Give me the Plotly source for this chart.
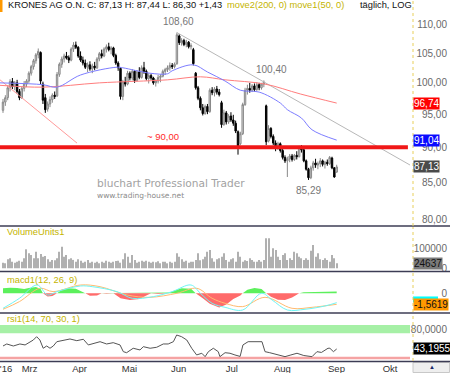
import math
import plotly.graph_objects as go

# ---------------- data ----------------
opens = [95.6, 96.9, 97.6, 99.2, 100.2, 99.4, 100.0, 98.6, 97.6, 99.1,
 99.8, 100.3, 101.6, 102.7, 103.7, 104.7, 105.1, 99.8, 97.6, 95.8,
 96.6, 97.3, 98.0, 97.9, 101.4, 103.1, 104.0, 104.5, 104.2, 103.8,
 105.7, 106.4, 106.0, 104.5, 103.8, 103.3, 102.6, 103.0, 102.3, 102.8,
 102.5, 104.0, 104.9, 104.5, 105.7, 106.1, 105.6, 105.9, 104.6, 103.3,
 102.4, 97.8, 100.2, 99.8, 101.6, 100.8, 101.9, 100.4, 101.8, 100.9,
 102.5, 101.9, 100.7, 101.2, 100.8, 100.0, 100.3, 100.9, 101.1, 101.9,
 102.2, 102.5, 102.9, 102.7, 103.2, 108.0, 106.8, 107.2, 106.5, 106.9,
 106.1, 105.6, 101.6, 99.2, 97.5, 96.0, 95.1, 96.2, 95.4, 98.8,
 98.4, 99.0, 98.5, 96.8, 93.4, 95.2, 93.8, 94.7, 94.1, 93.6,
 92.3, 90.5, 92.0, 96.5, 98.8, 99.1, 98.8, 99.5, 98.9, 99.7,
 99.2, 99.8, 96.3, 90.9, 92.8, 91.6, 90.6, 89.8, 90.5, 89.5,
 88.5, 88.0, 88.3, 88.7, 88.2, 88.8, 88.6, 89.9, 89.6, 88.0,
 86.8, 85.6, 87.0, 87.7, 87.4, 87.6, 88.0, 87.5, 87.8, 87.6,
 88.4, 87.0, 86.4]
highs = [97.4, 98.0, 99.6, 100.6, 100.8, 100.3, 100.5, 99.0, 99.4, 100.3,
 100.6, 101.9, 103.0, 104.0, 105.0, 105.8, 105.3, 100.2, 98.2, 97.0,
 97.8, 98.3, 98.6, 101.8, 103.4, 104.4, 104.9, 105.2, 104.6, 106.0,
 106.9, 107.0, 106.2, 105.3, 104.4, 103.9, 103.4, 103.6, 103.2, 103.5,
 104.3, 105.2, 105.6, 106.0, 106.5, 106.8, 106.2, 106.1, 104.9, 103.6,
 102.6, 100.5, 101.0, 102.0, 101.9, 102.3, 102.1, 102.1, 102.6, 102.9,
 103.5, 102.2, 101.6, 101.5, 101.0, 100.6, 101.3, 101.4, 102.2, 102.5,
 102.9, 103.4, 103.3, 103.4, 108.6, 108.3, 107.6, 107.5, 107.3, 107.1,
 106.7, 105.9, 101.8, 99.5, 97.8, 96.6, 96.5, 96.6, 99.1, 99.3,
 99.3, 99.5, 99.0, 97.1, 95.7, 95.5, 95.0, 95.3, 94.9, 94.0,
 92.5, 92.3, 96.8, 99.2, 99.7, 100.0, 99.8, 99.9, 100.1, 100.0,
 100.0, 100.4, 96.5, 93.3, 93.0, 91.9, 91.0, 90.8, 90.7, 89.8,
 88.8, 88.6, 89.0, 89.0, 89.0, 89.4, 90.2, 90.3, 89.8, 88.2,
 87.0, 87.3, 88.0, 88.3, 87.9, 88.4, 88.2, 88.0, 88.2, 88.7,
 88.6, 87.1, 87.44]
lows = [95.2, 96.3, 97.2, 98.6, 99.0, 98.8, 98.3, 97.2, 97.4, 98.6,
 99.3, 100.0, 101.2, 102.2, 103.2, 104.1, 99.8, 96.6, 95.2, 95.4,
 96.1, 96.8, 97.4, 97.7, 101.0, 102.5, 103.4, 103.9, 103.3, 103.6,
 105.2, 105.7, 104.2, 103.5, 102.9, 102.3, 101.8, 102.0, 101.6, 102.1,
 102.3, 103.6, 104.1, 104.3, 105.1, 105.3, 104.8, 104.3, 103.0, 102.0,
 97.3, 97.2, 99.4, 99.6, 100.4, 100.4, 100.0, 100.2, 100.6, 100.7,
 101.5, 100.4, 99.9, 100.5, 99.7, 99.4, 99.9, 100.1, 100.9, 101.3,
 101.8, 102.0, 102.3, 102.4, 103.0, 106.4, 106.3, 106.2, 106.0, 105.8,
 105.6, 102.9, 98.9, 97.2, 95.6, 94.8, 94.9, 95.0, 95.2, 98.0,
 97.8, 98.1, 97.8, 92.9, 93.2, 93.4, 93.5, 93.8, 93.2, 92.1,
 88.9, 90.3, 91.8, 96.3, 98.1, 98.4, 98.5, 98.6, 98.7, 98.8,
 98.9, 99.3, 90.3, 90.7, 91.3, 90.3, 89.4, 89.6, 89.2, 88.2,
 87.7, 85.7, 87.8, 87.9, 88.0, 88.2, 88.5, 89.2, 87.8, 86.6,
 85.29, 85.4, 86.6, 87.0, 86.8, 87.1, 87.2, 86.9, 87.3, 87.4,
 86.8, 85.6, 86.30]
closes = [96.9, 97.6, 99.2, 100.2, 99.4, 100.0, 98.6, 97.6, 99.1, 99.8,
 100.3, 101.6, 102.7, 103.7, 104.7, 105.3, 100.3, 97.2, 95.7, 96.6,
 97.3, 98.0, 97.8, 101.4, 103.1, 104.0, 104.5, 104.2, 103.8, 105.7,
 106.4, 106.0, 104.5, 103.8, 103.3, 102.6, 103.0, 102.3, 102.8, 102.5,
 104.0, 104.9, 104.5, 105.7, 106.1, 105.6, 105.9, 104.6, 103.3, 102.5,
 97.8, 100.2, 99.8, 101.6, 100.8, 101.9, 100.4, 101.8, 100.9, 102.5,
 101.9, 100.7, 101.2, 100.8, 100.0, 100.3, 100.9, 101.1, 101.9, 102.2,
 102.5, 102.9, 102.7, 103.1, 108.2, 106.8, 107.2, 106.5, 106.9, 106.1,
 106.3, 103.2, 99.2, 97.5, 96.0, 95.1, 96.2, 95.4, 98.8, 98.4,
 99.0, 98.5, 98.1, 93.4, 95.2, 93.8, 94.7, 94.1, 93.6, 92.4,
 90.2, 92.0, 96.5, 98.8, 99.1, 98.8, 99.5, 98.9, 99.7, 99.2,
 99.8, 100.1, 90.8, 92.8, 91.6, 90.6, 89.8, 90.5, 89.5, 88.5,
 88.0, 88.3, 88.7, 88.2, 88.8, 88.6, 89.9, 89.6, 88.0, 86.8,
 85.6, 87.0, 87.7, 87.4, 87.6, 88.0, 87.5, 87.8, 87.6, 88.5,
 87.0, 85.70, 87.13]
volumes = [28000, 25000, 45000, 50000, 33000, 28000, 33000, 38000, 33000, 50000,
 95000, 75000, 67000, 50000, 83000, 50000, 72000, 58000, 62000, 45000,
 33000, 42000, 40000, 50000, 83000, 108000, 58000, 67000, 45000, 50000,
 42000, 33000, 45000, 38000, 28000, 33000, 42000, 28000, 33000, 28000,
 33000, 25000, 33000, 28000, 38000, 33000, 28000, 33000, 36000, 38000,
 28000, 45000, 75000, 58000, 28000, 67000, 42000, 28000, 33000, 38000,
 33000, 38000, 33000, 28000, 33000, 30000, 35000, 25000, 33000, 33000,
 25000, 33000, 28000, 33000, 75000, 58000, 45000, 33000, 38000, 28000,
 33000, 33000, 42000, 75000, 40000, 45000, 58000, 83000, 92000, 50000,
 33000, 45000, 50000, 58000, 75000,
 42000, 33000, 45000, 50000, 33000, 83000, 58000, 33000, 40000, 36000,
 50000, 42000, 33000, 33000, 42000, 33000, 42000, 150000, 150000, 58000,
 100000, 92000, 58000, 42000, 67000, 75000, 42000, 50000, 42000, 83000,
 75000, 58000, 50000, 42000, 50000, 42000, 88000, 117000, 58000, 75000,
 45000, 42000, 50000, 42000, 33000, 67000, 50000, 24637]

ma50_x = [-1.3, 17, 23, 33, 48.5, 51, 62.5, 70, 72, 81, 87, 94.5, 101, 109, 118, 121, 127, 131.5, 142]
ma50_y = [100.0, 99.7, 99.3, 101.3, 102.6, 102.5, 101.6, 101.5, 102.0, 103.0, 101.8, 100.3, 98.8,
          98.5, 96.75, 95.7, 94.4, 92.6, 91.04]
ma200_x = [-1.3, 17, 41, 70, 84, 94.5, 111.5, 126.5, 142]
ma200_y = [99.6, 99.3, 100.0, 100.5, 101.0, 100.5, 99.8, 98.2, 96.74]

trend_gray_x = [74, 173.2]
trend_gray_y = [108.6, 87.4]
trend_red_x = [-1.28, 31.5]
trend_red_y = [100.5, 90.6]
support_x = [-1.28, 172.3]
support_y = [90.0, 90.0]

macd_x = [0, 7, 14.5, 19, 23, 33, 38, 48.5, 55, 64, 72, 80, 84, 89, 94.5, 102, 110, 114.5, 121, 128.5, 137, 142]
macd_y = [-2.13, -0.71, 1.18, -0.24, 0.24, 1.04, 0.94, 0.24, -0.71, -0.47, 0.24, 1.18, 0.0, -1.42,
          -1.99, -2.37, 0.0, -0.95, -2.37, -2.27, -1.80, -1.33]
signal_x = [0, 7, 15.7, 21.3, 33, 41.3, 52.8, 62.5, 74, 82.5, 89, 94.5, 102, 111.5, 123, 131.5, 142]
signal_y = [-2.27, -1.18, 0.71, 0.24, 1.18, 0.94, -0.24, -0.57, 0.0, 0.71, -0.71, -1.42, -1.89,
            -0.57, -2.13, -1.99, -1.5619]
hist_x = [0, 3, 6, 9, 11, 14, 16, 17, 19, 21, 23, 25, 28, 31, 34, 35, 37, 40, 42, 44, 47, 50, 54,
          58, 61, 63, 66, 69, 71, 73, 76, 80, 82, 85, 88, 92, 95, 98, 101, 102, 104, 107, 110, 112,
          114, 117, 120, 123, 125, 126, 128, 132, 136, 140, 142]
hist_y = [0.7, 0.8, 0.75, 0.6, 0.75, 0.9, 0.6, 0, -0.45, -0.4, 0, 0.5, 0.7, 0.65, 0.2, 0, -0.35,
          -0.3, 0, -0.05, 0, -0.7, -0.95, -0.8, -0.3, 0, -0.1, 0, 0.1, 0.4, 0.7, 0.65, 0, -0.7,
          -1.5, -2.0, -1.6, -0.8, -0.3, 0, 0.5, 0.75, 0.6, 0, -0.5, -0.9, -0.95, -0.6, -0.2, 0,
          0.15, 0.2, 0.22, 0.25, 0.24]

rsi_x = [0, 1.6, 4.4, 7.2, 9.4, 11.5, 12.9, 14.3, 15.7, 17.1, 18.6, 20.0, 21.4, 22.9, 25.7, 28.5,
         31.4, 34.2, 36.3, 38.4, 41.3, 44.1, 46.9, 49.8, 51.2, 52.6, 55.4, 58.3, 59.7, 62.6, 65.4,
         68.2, 70.3, 72.5, 73.9, 76.0, 78.2, 80.3, 82.4, 84.6, 86.0, 87.4, 89.5, 91.6, 92.3, 94.5,
         96.6, 98.7, 100.9, 102.1, 104.3, 110.2, 111.5, 113.5, 116.5, 120.0, 122.5, 125.1, 128,
         131.5, 133.6, 135.5, 138.3, 139.1, 140.6, 142]
rsi_y = [49.0, 52.9, 49.0, 52.9, 51.0, 57.3, 60.6, 67.0, 60.6, 44.6, 49.0, 44.6, 49.0, 57.3, 60.6,
         62.6, 59.3, 62.0, 51.0, 54.2, 57.3, 52.9, 55.4, 51.0, 38.0, 36.0, 44.6, 41.3, 47.7, 44.6,
         46.5, 52.9, 52.9, 57.3, 70.3, 67.0, 60.6, 44.6, 31.6, 34.9, 28.3, 38.0, 44.6, 38.0, 28.3,
         36.0, 34.9, 31.6, 28.8, 51.0, 57.3, 57.3, 38.0, 36.0, 32.0, 28.3, 31.6, 34.9, 30.5, 28.3,
         38.0, 36.5, 44.6, 44.6, 38.0, 43.1955]
rsi_upper_band = [73.6, 89.7]
rsi_lower_band = [23.2, 28.3]

month_pos = [1.3, 11.3, 32.6, 53.8, 74.7, 97.4, 118.9, 141.9, 164.7]
month_txt = ["'16", "Mrz", "Apr", "Mai", "Jun", "Jul", "Aug", "Sep", "Okt"]
price_ticks = [80, 85, 90, 95, 100, 105, 110]
price_tick_txt = ["80,00", "85,00", "90,00", "95,00", "100,00", "105,00", "110,00"]

# ---------------- layout helpers (pixels) ----------------
W, H, PH = 450, 373, 361
FONT = "Liberation Sans, Arial, sans-serif"
OLIVE = "#c4b400"


def px(x):
    return x / W


def py(y):
    return (PH - y) / PH


def dom(top, bottom):
    return [py(bottom), py(top)]


idx = list(range(len(closes)))
fig = go.Figure()

# main panel
fig.add_trace(go.Scatter(x=trend_gray_x, y=trend_gray_y, mode="lines",
                         line=dict(color="#b8b8b8", width=1), xaxis="x", yaxis="y", hoverinfo="skip"))
fig.add_trace(go.Scatter(x=trend_red_x, y=trend_red_y, mode="lines",
                         line=dict(color="#ff9a9a", width=1), xaxis="x", yaxis="y", hoverinfo="skip"))
fig.add_trace(go.Scatter(x=ma200_x, y=ma200_y, mode="lines", line_shape="spline",
                         line=dict(color="#ff7d7d", width=1), xaxis="x", yaxis="y", hoverinfo="skip"))
fig.add_trace(go.Scatter(x=ma50_x, y=ma50_y, mode="lines", line_shape="spline",
                         line=dict(color="#7d7dff", width=1), xaxis="x", yaxis="y", hoverinfo="skip"))
fig.add_trace(go.Scatter(x=support_x, y=support_y, mode="lines",
                         line=dict(color="#f01818", width=4), xaxis="x", yaxis="y", hoverinfo="skip"))
fig.add_trace(go.Candlestick(x=idx, open=opens, high=highs, low=lows, close=closes,
                             increasing=dict(line=dict(color="#888888", width=1), fillcolor="#dcdcdc"),
                             decreasing=dict(line=dict(color="#000000", width=1), fillcolor="#000000"),
                             whiskerwidth=0, xaxis="x", yaxis="y", hoverinfo="skip"))

# volume
fig.add_trace(go.Bar(x=idx, y=volumes, width=0.45, marker=dict(color="#b0b0b0", line=dict(width=0)),
                     xaxis="x", yaxis="y2", hoverinfo="skip"))

# macd
hist_pos = [max(v, 0) for v in hist_y]
hist_neg = [min(v, 0) for v in hist_y]
fig.add_trace(go.Scatter(x=hist_x, y=hist_pos, mode="lines", fill="tozeroy", fillcolor="#5cf05c",
                         line=dict(width=0, color="#5cf05c"), xaxis="x", yaxis="y3", hoverinfo="skip"))
fig.add_trace(go.Scatter(x=hist_x, y=hist_neg, mode="lines", fill="tozeroy", fillcolor="#ff6b6b",
                         line=dict(width=0, color="#ff6b6b"), xaxis="x", yaxis="y3", hoverinfo="skip"))
fig.add_trace(go.Scatter(x=signal_x, y=signal_y, mode="lines", line_shape="spline",
                         line=dict(color="#ffbb70", width=1), xaxis="x", yaxis="y3", hoverinfo="skip"))
fig.add_trace(go.Scatter(x=macd_x, y=macd_y, mode="lines", line_shape="spline",
                         line=dict(color="#6ff5f5", width=1), xaxis="x", yaxis="y3", hoverinfo="skip"))

# rsi
fig.add_trace(go.Scatter(x=rsi_x, y=rsi_y, mode="lines", line=dict(color="#555555", width=1),
                         xaxis="x", yaxis="y4", hoverinfo="skip"))

x_left = (0 - 3) / 2.35
x_right = (W - 3) / 2.35
x_band_end = (410 - 3) / 2.35

shapes = [
    dict(type="rect", xref="x", yref="y4", x0=x_left, x1=x_band_end, y0=rsi_upper_band[0], y1=rsi_upper_band[1],
         fillcolor="#a6f0a6", line=dict(width=0), layer="below"),
    dict(type="rect", xref="x", yref="y4", x0=x_left, x1=x_band_end, y0=rsi_lower_band[0], y1=rsi_lower_band[1],
         fillcolor="#f5a3a3", line=dict(width=0), layer="below"),
    dict(type="rect", xref="paper", yref="paper", x0=0, x1=px(2.5), y0=py(12), y1=py(0),
         fillcolor="#ff9900", line=dict(width=0)),
    dict(type="rect", xref="paper", yref="paper", x0=px(413), x1=px(449.5), y0=py(372.5), y1=py(362.5),
         fillcolor="#eeeeee", line=dict(color="#c8c8c8", width=1)),
    dict(type="rect", xref="paper", yref="y3", x0=px(413), x1=px(438), y0=-0.45, y1=-1.3,
         fillcolor="#00ffff", line=dict(width=0)),
]
for yline in [226, 271.5, 313, 361.5]:
    shapes.append(dict(type="line", xref="paper", yref="paper", x0=0, x1=1, y0=py(yline), y1=py(yline),
                       line=dict(color="#3c3c55", width=1.3)))
for (t, b) in [(0, 226), (227, 271), (273, 312), (314, 361)]:
    shapes.append(dict(type="line", xref="paper", yref="paper", x0=px(413), x1=px(413), y0=py(b), y1=py(t),
                       line=dict(color="#e8cf5a", width=1, dash="dot")))

anns = []


def tann(text, x, y, color, size, anchor="left", family=FONT):
    anns.append(dict(text=text, x=px(x), y=py(y), xref="paper", yref="paper", xanchor=anchor,
                     yanchor="middle", showarrow=False, font=dict(color=color, size=size, family=family)))


tann("KRONES AG O.N. C: 87,13 H: 87,44 L: 86,30 +1,43", 6, 5.5, "#111111", 9.3)
tann("move2(200, 0) move1(50, 0)", 225, 5.5, OLIVE, 9.3)
tann("täglich, LOG", 358, 5.5, "#111111", 9.3)
tann("VolumeUnits1", 5, 232, OLIVE, 9.3)
tann("macd1(12, 26, 9)", 5, 280, OLIVE, 9.3)
tann("rsi1(14, 70, 30, 1)", 5, 319, OLIVE, 9.3)
tann("bluchart Professional Trader", 95, 183, "#a2a2a2", 10.6, family="DejaVu Sans, sans-serif")
tann("www.trading-house.net", 95, 196, "#8c8c8c", 7.5, family="DejaVu Sans, sans-serif")
tann("▲", 432, 367, "#1b2a6b", 6, anchor="center")


def dann(text, x, yv, yref, dy, dx=0, color="#777777", size=10):
    anns.append(dict(text=text, x=x, y=yv, xref="x", yref=yref, showarrow=False, yshift=dy, xshift=dx,
                     font=dict(color=color, size=size, family=FONT)))


dann("108,60", 74, math.log10(108.6), "y", 11, 2)
dann("100,40", 111, math.log10(100.4), "y", 11, 8)
dann("85,29", 130, math.log10(85.29), "y", -11, 0)
dann("~ 90,00", 68, math.log10(90.0), "y", 11, 0, color="#ff2a2a", size=9.5)


def bann(text, yv, yref, bg, fg):
    anns.append(dict(text=text, x=px(413), y=yv, xref="paper", yref=yref, xanchor="left", yanchor="middle",
                     showarrow=False, bgcolor=bg, borderpad=0,
                     font=dict(color=fg, size=10, family=FONT)))


bann("96,74", math.log10(96.74), "y", "#ff0000", "#ffffff")
bann("91,04", math.log10(91.04), "y", "#0a0aff", "#ffffff")
bann("87,13", math.log10(87.13), "y", "#4a4a4a", "#ffffff")
bann("24637", 24637, "y2", "#7a7a7a", "#111111")
bann("-1,5619", -1.5619, "y3", "#ff9900", "#111111")
bann("43,1955", 43.1955, "y4", "#000000", "#ffffff")

axis_common = dict(side="right", anchor="x", showgrid=False, zeroline=False, showline=False, ticks="",
                   ticklabelposition="inside", ticklabeloverflow="allow",
                   tickfont=dict(size=10, color="#6a6a6a", family=FONT), fixedrange=True)

fig.update_layout(
    width=W, height=H, margin=dict(l=0, r=0, t=0, b=12),
    paper_bgcolor="white", plot_bgcolor="white", showlegend=False, boxgap=0.12,
    xaxis=dict(range=[x_left, x_right], anchor="y4", showgrid=False, zeroline=False, showline=False,
               ticks="", tickvals=month_pos, ticktext=month_txt, ticklabeloverflow="allow",
               tickfont=dict(size=9.5, color="#333333", family=FONT), rangeslider=dict(visible=False)),
    yaxis=dict(type="log", domain=dom(0, 226), range=[math.log10(79.087), math.log10(114.55)],
               tickvals=price_ticks, ticktext=price_tick_txt, **axis_common),
    yaxis2=dict(domain=dom(227, 271), range=[-13500, 206500], tickvals=[0, 100000],
                ticktext=["0", "100000"], **axis_common),
    yaxis3=dict(domain=dom(273, 312), range=[-2.655, 2.883], tickvals=[0], ticktext=["0"], **axis_common),
    yaxis4=dict(domain=dom(314, 361), range=[19.9, 111.0], tickvals=[80], ticktext=["80,0000"], **axis_common),
    shapes=shapes, annotations=anns,
)

fig.write_html("out.html")
